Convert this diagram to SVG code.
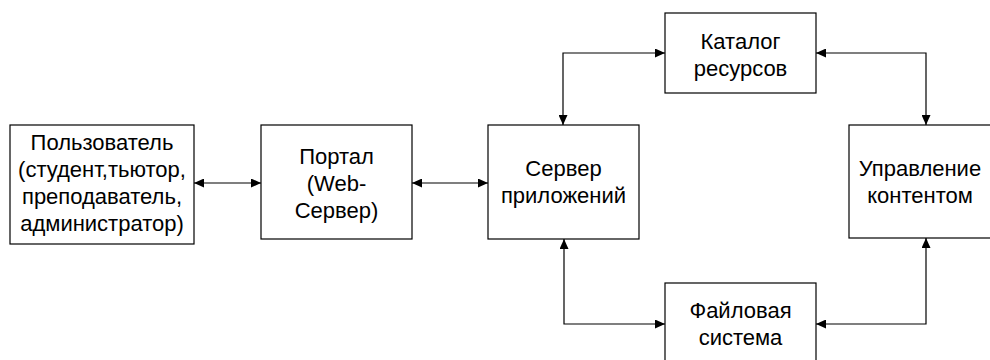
<svg xmlns="http://www.w3.org/2000/svg" width="990" height="360" viewBox="0 0 990 360">
  <style>
    .box { fill: #fff; stroke: #000; stroke-width: 1.2; }
    .lbl { font-family: "Liberation Sans", Arial, sans-serif; font-size: 22px; fill: #000; text-anchor: middle; }
    .link { fill: none; stroke: #000; stroke-width: 1.2; marker-start: url(#head); marker-end: url(#head); }
  </style>
  <defs>
    <marker id="head" viewBox="0 0 10 10" refX="10" refY="5" markerWidth="10" markerHeight="9" markerUnits="userSpaceOnUse" orient="auto-start-reverse" preserveAspectRatio="none">
      <path d="M0,0 L10,5 L0,10 z" fill="#000"/>
    </marker>
  </defs>
  <rect width="990" height="360" fill="#fff"/>

  <g id="connectors">
    <line class="link" x1="194" y1="183" x2="261" y2="183"/>
    <line class="link" x1="412" y1="183" x2="488" y2="183"/>
    <polyline class="link" points="563,125 563,53 665,53"/>
    <polyline class="link" points="816,53 926,53 926,125"/>
    <polyline class="link" points="564,239 564,324 665,324"/>
    <polyline class="link" points="816,324 926,324 926,238"/>
  </g>

  <g id="user">
    <rect class="box" x="10" y="125" width="184" height="119"/>
    <text class="lbl" x="102" y="150">Пользователь</text>
    <text class="lbl" x="102" y="177">(студент,тьютор,</text>
    <text class="lbl" x="102" y="204">преподаватель,</text>
    <text class="lbl" x="102" y="231">администратор)</text>
  </g>

  <g id="portal">
    <rect class="box" x="261" y="125" width="151" height="114"/>
    <text class="lbl" x="336.5" y="164">Портал</text>
    <text class="lbl" x="336.5" y="191">(Web-</text>
    <text class="lbl" x="336.5" y="218">Сервер)</text>
  </g>

  <g id="app-server">
    <rect class="box" x="488" y="125" width="151" height="114"/>
    <text class="lbl" x="563.5" y="176">Сервер</text>
    <text class="lbl" x="563.5" y="203">приложений</text>
  </g>

  <g id="catalog">
    <rect class="box" x="665" y="13" width="151" height="80"/>
    <text class="lbl" x="740.5" y="49">Каталог</text>
    <text class="lbl" x="740.5" y="76">ресурсов</text>
  </g>

  <g id="content">
    <rect class="box" x="849" y="125" width="151" height="113"/>
    <text class="lbl" x="920" y="176">Управление</text>
    <text class="lbl" x="920" y="203">контентом</text>
  </g>

  <g id="files">
    <rect class="box" x="665" y="283" width="151" height="80"/>
    <text class="lbl" x="740.5" y="318">Файловая</text>
    <text class="lbl" x="740.5" y="345">система</text>
  </g>
</svg>
